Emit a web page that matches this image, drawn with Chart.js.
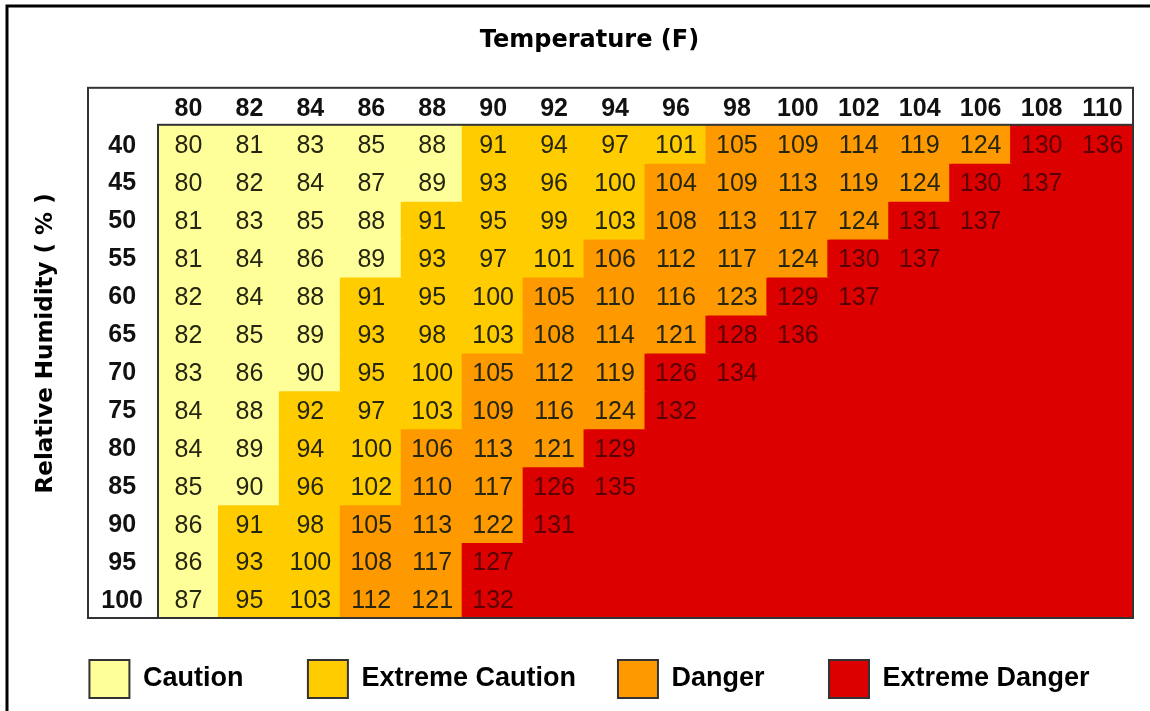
<!DOCTYPE html>
<html lang="en">
<head>
  <meta charset="UTF-8">
  <title>Heat Index</title>
  <script src="https://cdnjs.cloudflare.com/ajax/libs/Chart.js/4.4.1/chart.umd.min.js"></script>
  <style>
    body { margin: 0; background: #fff; }
    #wrap { width: 1150px; height: 711px; }
  </style>
</head>
<body>
  <div id="wrap"><canvas id="myChart"></canvas></div>

  <script>
  // air temperature (F) across, relative humidity (%) down
  var temps = [80, 82, 84, 86, 88, 90, 92, 94, 96, 98, 100, 102, 104, 106, 108, 110];
  var humidity = [40, 45, 50, 55, 60, 65, 70, 75, 80, 85, 90, 95, 100];

  // heat index per humidity row, null = cell left blank
  var rh40  = [80, 81, 83, 85, 88, 91, 94, 97, 101, 105, 109, 114, 119, 124, 130, 136];
  var rh45  = [80, 82, 84, 87, 89, 93, 96, 100, 104, 109, 113, 119, 124, 130, 137, null];
  var rh50  = [81, 83, 85, 88, 91, 95, 99, 103, 108, 113, 117, 124, 131, 137, null, null];
  var rh55  = [81, 84, 86, 89, 93, 97, 101, 106, 112, 117, 124, 130, 137, null, null, null];
  var rh60  = [82, 84, 88, 91, 95, 100, 105, 110, 116, 123, 129, 137, null, null, null, null];
  var rh65  = [82, 85, 89, 93, 98, 103, 108, 114, 121, 128, 136, null, null, null, null, null];
  var rh70  = [83, 86, 90, 95, 100, 105, 112, 119, 126, 134, null, null, null, null, null, null];
  var rh75  = [84, 88, 92, 97, 103, 109, 116, 124, 132, null, null, null, null, null, null, null];
  var rh80  = [84, 89, 94, 100, 106, 113, 121, 129, null, null, null, null, null, null, null, null];
  var rh85  = [85, 90, 96, 102, 110, 117, 126, 135, null, null, null, null, null, null, null, null];
  var rh90  = [86, 91, 98, 105, 113, 122, 131, null, null, null, null, null, null, null, null, null];
  var rh95  = [86, 93, 100, 108, 117, 127, null, null, null, null, null, null, null, null, null, null];
  var rh100 = [87, 95, 103, 112, 121, 132, null, null, null, null, null, null, null, null, null, null];
  var heatIndex = [rh40, rh45, rh50, rh55, rh60, rh65, rh70, rh75, rh80, rh85, rh90, rh95, rh100];

  var levels = ['Caution', 'Extreme Caution', 'Danger', 'Extreme Danger'];
  var levelMin = [80, 91, 104, 125];
  var levelColors = ['#FFFF99', '#FFCC00', '#FF9900', '#DD0000'];

  function levelOf(v) {
    if (v === null) return 3;
    var k = 0;
    for (var i = 0; i < levelMin.length; i++) {
      if (v >= levelMin[i]) k = i;
    }
    return k;
  }

  var datasets = heatIndex.map(function(row, i) {
    return {
      label: humidity[i] + '%',
      data: row.map(function() { return [i, i + 1]; }),
      backgroundColor: row.map(function(v) { return levelColors[levelOf(v)]; }),
      borderWidth: 0,
      inflateAmount: 1,
      barPercentage: 1,
      categoryPercentage: 1,
      grouped: false
    };
  });

  var headFont = { family: '"Liberation Sans", Arial, sans-serif', weight: 'bold', size: 25 };
  var titleFont = { family: '"DejaVu Sans", Tahoma, sans-serif', weight: 'bold', size: 24 };

  // frame lines and the table borders
  var frame = {
    id: 'frame',
    beforeDraw: function(chart) {
      var ctx = chart.ctx;
      ctx.save();
      ctx.strokeStyle = '#000';
      ctx.lineWidth = 3;
      ctx.beginPath();
      ctx.moveTo(7, chart.height);
      ctx.lineTo(7, 6);
      ctx.lineTo(chart.width, 6);
      ctx.stroke();
      ctx.restore();
    },
    afterDatasetsDraw: function(chart) {
      var ctx = chart.ctx, a = chart.chartArea, xs = chart.scales.x;
      var left = a.left - 70;
      ctx.save();
      ctx.strokeStyle = '#333';
      ctx.lineWidth = 2;
      ctx.strokeRect(a.left, a.top, a.right - a.left, a.bottom - a.top);
      ctx.strokeRect(left, xs.top, a.right - left, a.bottom - xs.top);
      ctx.restore();
    }
  };

  // the number in each cell
  var cellLabels = {
    id: 'cellLabels',
    afterDatasetsDraw: function(chart) {
      var ctx = chart.ctx;
      ctx.save();
      ctx.font = '25px "Liberation Sans", Arial, sans-serif';
      ctx.textAlign = 'center';
      ctx.textBaseline = 'middle';
      chart.data.datasets.forEach(function(ds, i) {
        chart.getDatasetMeta(i).data.forEach(function(bar, j) {
          var v = heatIndex[i][j];
          if (v === null) return;
          var p = bar.getProps(['x', 'y', 'base'], true);
          ctx.fillStyle = levelOf(v) === 3 ? '#5a0000' : '#262610';
          ctx.fillText(v, p.x, (p.y + p.base) / 2 + 2.5);
        });
      });
      ctx.restore();
    }
  };

  var ctx = document.getElementById('myChart');
  var myChart = new Chart(ctx, {
    type: 'bar',
    data: {
      labels: temps,
      datasets: datasets
    },
    plugins: [frame, cellLabels],
    options: {
      responsive: true,
      maintainAspectRatio: false,
      animation: false,
      events: [],
      layout: { padding: { left: 46, right: 17, top: 0, bottom: 3 } },
      plugins: {
        tooltip: { enabled: false },
        title: {
          display: true,
          text: 'Temperature (F)',
          color: '#000',
          font: titleFont,
          padding: { top: 26, bottom: 33 }
        },
        legend: {
          position: 'bottom',
          labels: {
            boxWidth: 40,
            boxHeight: 38,
            padding: 42,
            color: '#222',
            font: { family: '"Liberation Sans", Arial, sans-serif', weight: 'bold', size: 27 },
            generateLabels: function() {
              var gaps = ['   ', '', '   ', ''];
              return levels.map(function(name, k) {
                return {
                  text: name + gaps[k],
                  fillStyle: levelColors[k],
                  strokeStyle: '#333',
                  lineWidth: 2,
                  hidden: false,
                  datasetIndex: k
                };
              });
            }
          }
        }
      },
      scales: {
        x: {
          type: 'category',
          position: 'top',
          grid: { display: false, drawTicks: false },
          border: { display: false },
          ticks: { color: '#111', font: headFont, padding: 1, maxRotation: 0, autoSkip: false },
          afterFit: function(scale) { scale.height = 37; }
        },
        y: {
          type: 'linear',
          min: 0,
          max: humidity.length,
          reverse: true,
          grid: { display: false, drawTicks: false },
          border: { display: false },
          afterBuildTicks: function(scale) {
            scale.ticks = humidity.map(function(h, i) { return { value: i + 0.55 }; });
          },
          afterFit: function(scale) { scale.width = 112; },
          ticks: {
            autoSkip: false,
            crossAlign: 'center',
            padding: 15,
            color: '#111',
            font: headFont,
            callback: function(v) { return humidity[Math.floor(v)]; }
          },
          title: {
            display: true,
            text: '       Relative Humidity ( % )',
            color: '#000',
            font: { family: '"DejaVu Sans", Tahoma, sans-serif', weight: 'bold', size: 23 },
            padding: { top: -14, bottom: 0 }
          }
        }
      }
    }
  });
  </script>
</body>
</html>
